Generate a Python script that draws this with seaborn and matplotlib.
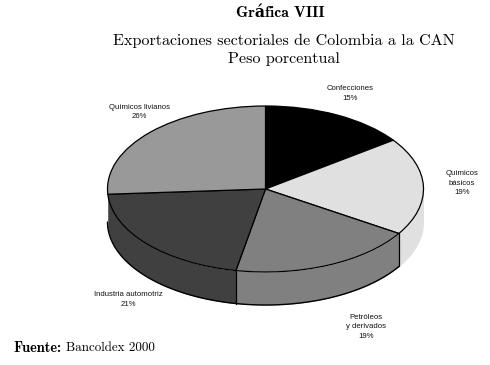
import numpy as np
import matplotlib
matplotlib.use("Agg")
import matplotlib.pyplot as plt
import seaborn as sns

sectors = ["Confecciones", "Químicos\nbásicos", "Petróleos\ny derivados",
           "Industria automotriz", "Químicos livianos"]
shares = [15, 19, 19, 21, 26]
colors = ["#000000", "#e0e0e0", "#808080", "#404040", "#999999"]
label_xy = [(350, 93.5), (462, 183), (366, 327), (128, 299.5), (139, 112)]

W, H = 490, 365
CX, CY, RX, RY, DEPTH = 265.5, 189, 158, 83, 33

sns.set_theme(style="white")
fig = plt.figure(figsize=(W / 100, H / 100), dpi=100, facecolor="white")
ax = fig.add_axes([0, 0, 1, 1])

# top face
ax.pie(shares, colors=colors, startangle=90, counterclock=False, radius=1,
       wedgeprops=dict(edgecolor="black", linewidth=0.9, zorder=3))
ax.set_aspect("auto")
ax.set_xlim(-CX / RX, (W - CX) / RX)
ax.set_ylim(-(H - CY) / RY, CY / RY)
ax.set_axis_off()

# side wall, derived from the same shares
depth = DEPTH / RY
edges = 90 - np.cumsum([0] + shares) * 3.6
for i, col in enumerate(colors):
    hi, lo = min(edges[i], 0), max(edges[i + 1], -180)
    if lo >= hi:
        continue
    th = np.radians(np.linspace(hi, lo, 100))
    x, y = np.cos(th), np.sin(th)
    # the slice that reaches the far left belongs to the automotive wall colour
    wall = colors[3] if i == 4 else col
    ax.fill_between(x, y, y - depth, color=wall, lw=0, zorder=1)
    if col != "#e0e0e0":
        ax.plot(x, y - depth, color="black", lw=1.0, zorder=2)
    if i in (1, 2):
        ax.plot([x[-1], x[-1]], [y[-1], y[-1] - depth], color="black", lw=0.9, zorder=2)


def px(x, y):
    return x / W, 1 - y / H


for name, val, (lx, ly) in zip(sectors, shares, label_xy):
    fig.text(*px(lx, ly), f"{name}\n{val}%", ha="center", va="center",
             family="Liberation Sans", fontsize=5.6, linespacing=1.57, color="#111111")

fig.text(*px(280.5, 13), "Gráfica VIII", ha="center", va="center",
         family=["cmb10", "DejaVu Serif"], weight="bold", fontsize=11.3, color="black")
fig.text(*px(283.5, 49.5), "Exportaciones sectoriales de Colombia a la CAN\nPeso porcentual",
         ha="center", va="center", family="cmr10", fontsize=11.55, linespacing=1.35, color="black")
fig.text(*px(13, 348), "Fuente:", ha="left", va="center",
         family="cmb10", weight="bold", fontsize=10.4, color="black")
fig.text(*px(66, 348), "Bancoldex 2000", ha="left", va="center",
         family="cmr10", fontsize=9.4, color="black")

fig.savefig("out.png", dpi=100, facecolor="white")
